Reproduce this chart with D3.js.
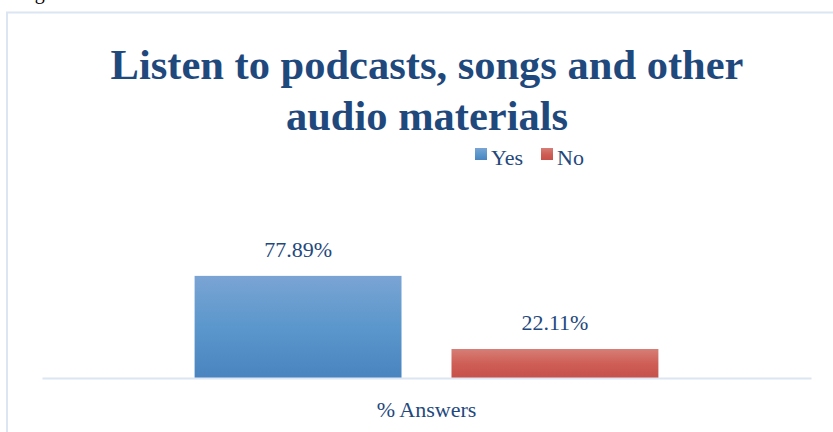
<!DOCTYPE html>
<html>
<head>
<meta charset="utf-8">
<script src="https://cdn.jsdelivr.net/npm/d3@7"></script>
<style>
  html, body { margin: 0; padding: 0; background: #ffffff; }
  svg { display: block; }
</style>
</head>
<body>
<svg id="chart" width="833" height="432"></svg>
<script>
// Chart data
const categories = ["% Answers"];
const series = ["Yes", "No"];
const values = [77.89, 22.11];
const valueLabels = ["77.89%", "22.11%"];
const titleLines = ["Listen to podcasts, songs and other", "audio materials"];

const W = 833, H = 432;
const FONT = "'Liberation Serif', 'Times New Roman', 'Liberation Sans', Arial, sans-serif";
const textColor = "#1F497D";
const frameColor = "#DCE6F2";
const labelSize = 22;

const svg = d3.select("#chart").attr("font-family", FONT);
const defs = svg.append("defs");

// Vertical gradients for the two series
const gradStops = {
  Yes: ["#7AA4D4", "#5B97CC", "#4A84C0"],
  No:  ["#D67E76", "#CE5F56", "#C6514A"]
};
series.forEach(s => {
  const g = defs.append("linearGradient")
    .attr("id", "grad-" + s)
    .attr("x1", 0).attr("y1", 0).attr("x2", 0).attr("y2", 1);
  gradStops[s].forEach((c, i) => {
    g.append("stop").attr("offset", (i / 2 * 100) + "%").attr("stop-color", c);
  });
});

// Caption fragment above the chart frame
svg.append("text")
  .attr("x", 18).attr("y", -1)
  .attr("font-family", FONT)
  .attr("font-size", 20)
  .attr("fill", "#000")
  .text("Figure");

// Chart frame
svg.append("path")
  .attr("d", `M7,${H} L7,12.5 L${W},12.5`)
  .attr("fill", "none")
  .attr("stroke", frameColor)
  .attr("stroke-width", 2);

// Title
svg.append("text")
  .attr("x", 427).attr("y", 79)
  .attr("text-anchor", "middle")
  .attr("font-family", FONT)
  .attr("font-size", 42.5)
  .attr("font-weight", "bold")
  .attr("fill", textColor)
  .selectAll("tspan")
  .data(titleLines)
  .join("tspan")
  .attr("x", 427)
  .attr("dy", (d, i) => i === 0 ? 0 : 51)
  .text(d => d);

// Scales
const plot = { left: 42, right: 811, bottom: 378, top: 260 };
const x0 = d3.scaleBand().domain(categories).range([plot.left, plot.right]).padding(0);
const x1 = d3.scaleBand().domain(series).range([0, x0.bandwidth()])
  .paddingInner(0.1946).paddingOuter(0.594);
const y = d3.scaleLinear().domain([0, 90]).range([plot.bottom, plot.top]);

// Bars
const barData = series.map((s, i) => ({ cat: categories[0], s, v: values[i], label: valueLabels[i] }));
svg.append("g").selectAll("rect")
  .data(barData)
  .join("rect")
  .attr("x", d => x0(d.cat) + x1(d.s))
  .attr("y", d => y(d.v))
  .attr("width", x1.bandwidth())
  .attr("height", d => y(0) - y(d.v))
  .attr("fill", d => `url(#grad-${d.s})`);

// Value labels
svg.append("g").selectAll("text")
  .data(barData)
  .join("text")
  .attr("x", d => x0(d.cat) + x1(d.s) + x1.bandwidth() / 2)
  .attr("y", d => y(d.v) - 19)
  .attr("text-anchor", "middle")
  .attr("font-family", FONT)
  .attr("font-size", labelSize)
  .attr("fill", textColor)
  .text(d => d.label);

// Category axis
const xAxis = svg.append("g")
  .attr("transform", `translate(0,${plot.bottom})`)
  .call(d3.axisBottom(x0).tickSize(0).tickPadding(23));
xAxis.attr("font-family", FONT).attr("font-size", labelSize);
xAxis.select(".domain").attr("stroke", frameColor).attr("stroke-width", 2);
xAxis.selectAll("text")
  .attr("font-family", FONT)
  .attr("font-size", labelSize)
  .attr("fill", textColor);

// Legend
const legendX = [475, 541];
const legend = svg.append("g");
series.forEach((s, i) => {
  legend.append("rect")
    .attr("x", legendX[i]).attr("y", 148)
    .attr("width", 12).attr("height", 12)
    .attr("fill", `url(#grad-${s})`);
  legend.append("text")
    .attr("x", legendX[i] + 16).attr("y", 165)
    .attr("font-family", FONT)
    .attr("font-size", labelSize)
    .attr("fill", textColor)
    .text(s);
});
</script>
</body>
</html>
